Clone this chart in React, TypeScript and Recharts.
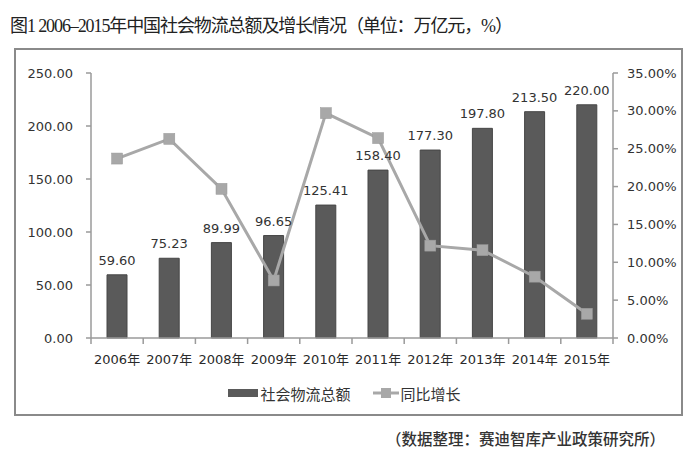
import React from 'react';
import { ComposedChart, Bar, Line, XAxis, YAxis, Legend, LabelList } from 'recharts';

const years = ['2006年', '2007年', '2008年', '2009年', '2010年', '2011年', '2012年', '2013年', '2014年', '2015年'];
const totals = [59.6, 75.23, 89.99, 96.65, 125.41, 158.4, 177.3, 197.8, 213.5, 220.0];
const growth = [23.7, 26.3, 19.7, 7.6, 29.7, 26.4, 12.2, 11.6, 8.1, 3.2];
const leftTicks = [0, 50, 100, 150, 200, 250];
const rightTicks = [0, 5, 10, 15, 20, 25, 30, 35];

const data = years.map((year, i) => ({ year, total: totals[i], growth: growth[i] }));

const CHART_W = 669;
const CHART_H = 368;
const LEFT_W = 77;
const RIGHT_W = 56;
const RIGHT_M = 14;
const BAND = (CHART_W - LEFT_W - RIGHT_W - RIGHT_M) / years.length;

const TEXT = '#333';
const AXIS = '#9a9a9a';
const BAR = '#5a5a5a';
const LINE = '#a8a8a8';
const FONT = '"DejaVu Sans", "Noto Sans CJK SC", sans-serif';

const XTick = (props: any) => {
  const { x, y, payload, index } = props;
  const lx = x - BAND / 2;
  const rx = x + BAND / 2;
  return (
    <g>
      <line x1={lx} y1={y} x2={lx} y2={y + 6} stroke={AXIS} strokeWidth={1.5} />
      {index === years.length - 1 && (
        <line x1={rx} y1={y} x2={rx} y2={y + 6} stroke={AXIS} strokeWidth={1.5} />
      )}
      <text x={x} y={y + 26} textAnchor="middle" fontSize={13} fill="#2a2a2a" fontFamily={FONT}>
        {payload.value}
      </text>
    </g>
  );
};

const SquareDot = (props: any) => {
  const { cx, cy } = props;
  if (cx == null || cy == null) return null;
  return <rect x={cx - 5.5} y={cy - 5.5} width={11} height={11} fill={LINE} stroke="#999" strokeWidth={0.5} />;
};

const LegendContent = () => (
  <div
    style={{
      display: 'flex',
      justifyContent: 'center',
      alignItems: 'center',
      fontFamily: '"Noto Sans CJK SC", sans-serif',
      fontSize: 15,
      color: TEXT,
      height: 30,
      paddingLeft: 6,
    }}
  >
    <span style={{ display: 'inline-block', width: 30, height: 8, background: BAR, marginRight: 2 }} />
    <span style={{ marginRight: 22 }}>社会物流总额</span>
    <svg width={26} height={12} style={{ marginRight: 2 }}>
      <line x1={0} y1={6} x2={26} y2={6} stroke={LINE} strokeWidth={3} />
      <rect x={8} y={1} width={10} height={10} fill={LINE} />
    </svg>
    <span>同比增长</span>
  </div>
);

export default function App() {
  return (
    <div style={{ position: 'absolute', left: 0, top: 0, width: 699, height: 463, background: '#fff' }}>
      <div
        style={{
          position: 'absolute',
          left: 10,
          top: 11,
          fontFamily: '"Liberation Serif", "Noto Sans CJK SC", serif',
          fontSize: 18,
          letterSpacing: -1.1,
          color: '#222',
          whiteSpace: 'nowrap',
        }}
      >
        图1 2006–2015年中国社会物流总额及增长情况（单位：万亿元，%）
      </div>
      <div
        style={{
          position: 'absolute',
          left: 14,
          top: 48,
          width: CHART_W,
          height: CHART_H,
          border: '2px solid #8a8a8a',
          boxSizing: 'border-box',
        }}
      />
      <div style={{ position: 'absolute', left: 14, top: 48 }}>
        <ComposedChart
          width={CHART_W}
          height={CHART_H}
          data={data}
          margin={{ top: 25, right: RIGHT_M, left: 0, bottom: 8 }}
        >
          <XAxis
            dataKey="year"
            tick={<XTick />}
            tickLine={false}
            tickSize={0}
            tickMargin={0}
            height={40}
            interval={0}
            stroke={AXIS}
            strokeWidth={1.5}
          />
          <YAxis
            yAxisId="left"
            domain={[0, 250]}
            ticks={leftTicks}
            width={LEFT_W}
            tickFormatter={(v: number) => v.toFixed(2)}
            tick={{ fontSize: 13, fill: TEXT, fontFamily: FONT }}
            tickSize={5}
            tickMargin={13}
            stroke={AXIS}
            strokeWidth={1.5}
            interval={0}
          />
          <YAxis
            yAxisId="right"
            orientation="right"
            domain={[0, 35]}
            ticks={rightTicks}
            width={RIGHT_W}
            tickFormatter={(v: number) => v.toFixed(2) + '%'}
            tick={{ fontSize: 13, fill: TEXT, fontFamily: FONT, textAnchor: 'start' }}
            tickSize={5}
            tickMargin={9}
            stroke={AXIS}
            strokeWidth={1.5}
            interval={0}
          />
          <Legend verticalAlign="bottom" height={30} content={<LegendContent />} />
          <Bar
            yAxisId="left"
            dataKey="total"
            name="社会物流总额"
            fill={BAR}
            stroke="#464646"
            strokeWidth={1}
            barSize={20}
            isAnimationActive={false}
          >
            <LabelList
              dataKey="total"
              position="top"
              offset={10}
              formatter={(v: number) => v.toFixed(2)}
              style={{ fontSize: 13, fill: TEXT, fontFamily: FONT }}
            />
          </Bar>
          <Line
            yAxisId="right"
            dataKey="growth"
            name="同比增长"
            stroke={LINE}
            strokeWidth={3}
            dot={<SquareDot />}
            activeDot={false}
            isAnimationActive={false}
          />
        </ComposedChart>
      </div>
      <div
        style={{
          position: 'absolute',
          left: 386,
          top: 427,
          fontFamily: '"Noto Sans CJK SC", sans-serif',
          fontSize: 15.5,
          fontWeight: 500,
          color: '#333',
          whiteSpace: 'nowrap',
        }}
      >
        （数据整理：赛迪智库产业政策研究所）
      </div>
    </div>
  );
}
